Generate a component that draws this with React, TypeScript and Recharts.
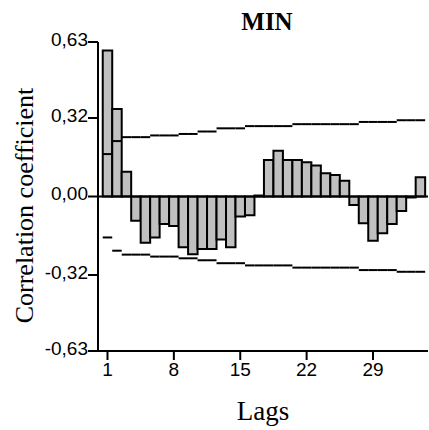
import React from "react";
import { BarChart, Bar, XAxis, YAxis, ReferenceLine } from "recharts";

// lags 1..34
const lags = [
  1, 2, 3, 4, 5, 6, 7, 8, 9, 10, 11, 12, 13, 14, 15, 16, 17,
  18, 19, 20, 21, 22, 23, 24, 25, 26, 27, 28, 29, 30, 31, 32, 33, 34,
];

// autocorrelation coefficients
const acf = [
  0.595, 0.357, 0.101, -0.099, -0.189, -0.167, -0.112, -0.12, -0.207, -0.235,
  -0.214, -0.214, -0.175, -0.207, -0.082, -0.076, 0.004, 0.149, 0.187, 0.149,
  0.149, 0.14, 0.126, 0.095, 0.088, 0.064, -0.035, -0.109, -0.18, -0.15,
  -0.112, -0.059, -0.004, 0.078,
];

// confidence limits per lag
const upperLimit = [
  0.173, 0.226, 0.242, 0.242, 0.242, 0.249, 0.249, 0.249, 0.255, 0.255,
  0.265, 0.265, 0.278, 0.278, 0.278, 0.287, 0.287, 0.287, 0.287, 0.287,
  0.295, 0.295, 0.295, 0.295, 0.295, 0.295, 0.295, 0.304, 0.304, 0.304,
  0.304, 0.311, 0.311, 0.311,
];
const lowerLimit = [
  -0.167, -0.221, -0.237, -0.237, -0.237, -0.245, -0.245, -0.245, -0.252, -0.252,
  -0.26, -0.26, -0.272, -0.272, -0.272, -0.281, -0.281, -0.281, -0.281, -0.281,
  -0.29, -0.29, -0.29, -0.29, -0.29, -0.29, -0.29, -0.3, -0.3, -0.3,
  -0.3, -0.307, -0.307, -0.307,
];

const xTicks = [1, 8, 15, 22, 29];
const yTicks = [-0.63, -0.32, 0, 0.32, 0.63];

const data = lags.map((lag, i) => ({ lag, value: acf[i] }));

const fmt = (v: number) => v.toFixed(2).replace(".", ",");

const YLabel = (props: any) => {
  const { x, y, height } = props.viewBox;
  const cx = x + 24;
  const cy = y + height / 2 + 9;
  return (
    <text
      x={cx}
      y={cy}
      transform={`rotate(-90 ${cx} ${cy})`}
      textAnchor="middle"
      dominantBaseline="central"
      fontFamily="Liberation Serif"
      fontSize={26}
      fill="#000"
    >
      Correlation coefficient
    </text>
  );
};

const App: React.FC = () => {
  return (
    <div style={{ position: "absolute", top: 0, left: 0, width: 429, height: 430, background: "#fff" }}>
      <div
        style={{
          position: "absolute",
          top: 9,
          left: 217,
          width: 100,
          textAlign: "center",
          fontFamily: "Liberation Serif",
          fontWeight: "bold",
          fontSize: 25,
          lineHeight: "25px",
          color: "#000",
        }}
      >
        MIN
      </div>
      <BarChart
        width={429}
        height={430}
        data={data}
        margin={{ top: 42, right: 1, bottom: 0, left: 0 }}
      >
        <XAxis
          dataKey="lag"
          type="number"
          domain={[0, 34.8]}
          ticks={xTicks}
          allowDataOverflow
          height={79}
          tickSize={9}
          tickMargin={3}
          axisLine={{ stroke: "#000", strokeWidth: 2 }}
          tickLine={{ stroke: "#000", strokeWidth: 2 }}
          tick={{ fill: "#000", fontSize: 19, fontFamily: "Liberation Sans" }}
          label={{
            value: "Lags",
            position: "insideBottom",
            offset: 10,
            fill: "#000",
            fontSize: 27,
            fontFamily: "Liberation Serif",
          }}
        />
        <YAxis
          type="number"
          domain={[-0.63, 0.63]}
          ticks={yTicks}
          width={98}
          tickSize={10}
          tickMargin={0}
          tickFormatter={fmt}
          axisLine={{ stroke: "#000", strokeWidth: 2 }}
          tickLine={{ stroke: "#000", strokeWidth: 2 }}
          tick={{ fill: "#000", fontSize: 19, fontFamily: "Liberation Sans", dy: -3 }}
          label={{ content: YLabel }}
        />
        <Bar
          dataKey="value"
          barSize={9.48}
          fill="#c0c0c0"
          stroke="#000"
          strokeWidth={2}
          isAnimationActive={false}
        />
        <ReferenceLine y={0} stroke="#000" strokeWidth={2} />
        {lags.map((lag, i) => (
          <ReferenceLine
            key={"u" + lag}
            segment={[
              { x: lag - 0.5, y: upperLimit[i] },
              { x: lag + 0.5, y: upperLimit[i] },
            ]}
            stroke="#000"
            strokeWidth={2}
          />
        ))}
        {lags.map((lag, i) => (
          <ReferenceLine
            key={"l" + lag}
            segment={[
              { x: lag - 0.5, y: lowerLimit[i] },
              { x: lag + 0.5, y: lowerLimit[i] },
            ]}
            stroke="#000"
            strokeWidth={2}
          />
        ))}
      </BarChart>
    </div>
  );
};

export default App;
